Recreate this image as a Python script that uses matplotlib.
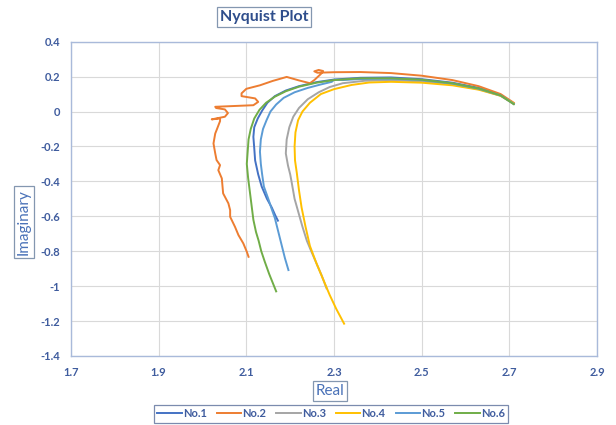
import matplotlib
matplotlib.use("Agg")
import matplotlib.pyplot as plt

plt.rcParams['font.family'] = ['Lato', 'DejaVu Sans']

# series data (real, imaginary)
x1 = [2.71, 2.68, 2.63, 2.57, 2.50, 2.43, 2.36, 2.30, 2.26, 2.22, 2.19, 2.165, 2.148, 2.136, 2.126,
      2.118, 2.116, 2.118, 2.12, 2.127, 2.135, 2.147, 2.158, 2.166, 2.172]
y1 = [0.045, 0.095, 0.135, 0.165, 0.185, 0.195, 0.193, 0.183, 0.168, 0.145, 0.12, 0.088, 0.05, 0.005, -0.04,
      -0.09, -0.145, -0.21, -0.28, -0.36, -0.43, -0.5, -0.55, -0.595, -0.625]

x2 = [2.71, 2.68, 2.63, 2.57, 2.50, 2.43, 2.36, 2.30, 2.262, 2.255, 2.265, 2.275, 2.27, 2.255, 2.245,
      2.22, 2.192, 2.16, 2.131, 2.10, 2.089, 2.089, 2.12, 2.127, 2.116, 2.029, 2.031, 2.051, 2.058,
      2.051, 2.021, 2.04, 2.04, 2.032, 2.029, 2.025, 2.029, 2.032, 2.04, 2.036, 2.044, 2.047, 2.059,
      2.063, 2.063, 2.074, 2.082, 2.093, 2.101, 2.105]
y2 = [0.05, 0.1, 0.145, 0.18, 0.205, 0.22, 0.226, 0.225, 0.222, 0.23, 0.238, 0.232, 0.215, 0.18, 0.162,
      0.178, 0.198, 0.175, 0.15, 0.13, 0.104, 0.088, 0.075, 0.055, 0.036, 0.027, 0.02, 0.012, -0.009,
      -0.03, -0.045, -0.04, -0.055, -0.107, -0.126, -0.183, -0.24, -0.278, -0.307, -0.336, -0.383, -0.469, -0.526,
      -0.565, -0.603, -0.66, -0.708, -0.755, -0.803, -0.832]

x3 = [2.71, 2.68, 2.63, 2.57, 2.50, 2.43, 2.37, 2.32, 2.29, 2.265, 2.24, 2.22, 2.207, 2.198, 2.192,
      2.19, 2.195, 2.2, 2.203, 2.21, 2.219, 2.228, 2.238, 2.248, 2.26, 2.272, 2.283]
y3 = [0.043, 0.09, 0.128, 0.155, 0.172, 0.18, 0.176, 0.162, 0.14, 0.11, 0.07, 0.02, -0.03, -0.09, -0.16,
      -0.24, -0.31, -0.36, -0.4, -0.5, -0.58, -0.66, -0.74, -0.8, -0.87, -0.94, -1.013]

x4 = [2.71, 2.68, 2.63, 2.57, 2.50, 2.43, 2.38, 2.34, 2.30, 2.27, 2.245, 2.228, 2.218, 2.212, 2.21,
      2.211, 2.215, 2.22, 2.226, 2.235, 2.245, 2.26, 2.275, 2.29, 2.305, 2.323]
y4 = [0.047, 0.09, 0.125, 0.15, 0.165, 0.17, 0.166, 0.152, 0.128, 0.1, 0.05, 0.0, -0.05, -0.12, -0.2,
      -0.28, -0.35, -0.45, -0.55, -0.66, -0.77, -0.87, -0.96, -1.05, -1.13, -1.215]

x5 = [2.71, 2.68, 2.63, 2.57, 2.50, 2.43, 2.36, 2.32, 2.30, 2.295, 2.27, 2.24, 2.21, 2.185, 2.168,
      2.155, 2.146, 2.138, 2.133, 2.131, 2.133, 2.136, 2.14, 2.15, 2.158, 2.165, 2.172, 2.18, 2.188, 2.196]
y5 = [0.044, 0.092, 0.13, 0.16, 0.18, 0.188, 0.186, 0.18, 0.182, 0.17, 0.155, 0.135, 0.11, 0.078, 0.04,
      0.0, -0.05, -0.1, -0.16, -0.23, -0.3, -0.36, -0.43, -0.5, -0.56, -0.61, -0.68, -0.76, -0.84, -0.908]

x6 = [2.71, 2.68, 2.63, 2.57, 2.50, 2.43, 2.36, 2.30, 2.26, 2.22, 2.19, 2.165, 2.145, 2.13, 2.118,
      2.11, 2.105, 2.103, 2.101, 2.104, 2.108, 2.112, 2.116, 2.122, 2.128, 2.134, 2.142, 2.152, 2.16, 2.168]
y6 = [0.042, 0.092, 0.132, 0.162, 0.182, 0.19, 0.19, 0.18, 0.165, 0.142, 0.116, 0.085, 0.05, 0.01, -0.04,
      -0.1, -0.16, -0.23, -0.3, -0.38, -0.46, -0.54, -0.62, -0.69, -0.74, -0.8, -0.86, -0.93, -0.98, -1.03]

names = ["No.1", "No.2", "No.3", "No.4", "No.5", "No.6"]
colors = ["#4472C4", "#ED7D31", "#A5A5A5", "#FFC000", "#5B9BD5", "#70AD47"]
xs = [x1, x2, x3, x4, x5, x6]
ys = [y1, y2, y3, y4, y5, y6]

xticks = [1.7, 1.9, 2.1, 2.3, 2.5, 2.7, 2.9]
yticks = [0.4, 0.2, 0, -0.2, -0.4, -0.6, -0.8, -1, -1.2, -1.4]

tick_col = "#3F5C9E"
lab_col = "#4A72B8"

fig = plt.figure(figsize=(6.16, 4.25), dpi=100)
ax = fig.add_axes([0.1153, 0.1624, 0.8539, 0.7396])

for x, y, c, n in zip(xs, ys, colors, names):
    ax.plot(x, y, color=c, lw=1.4, label=n)

ax.set_xlim(1.7, 2.9)
ax.set_ylim(-1.4, 0.4)
ax.set_xticks(xticks)
ax.set_yticks(yticks)
ax.set_xticklabels([str(t) for t in xticks])
ax.set_yticklabels([str(t) for t in yticks])
ax.grid(True, color="#D9D9D9", lw=0.8)
ax.set_axisbelow(True)
ax.tick_params(length=0, labelsize=8, labelcolor=tick_col)
ax.tick_params(axis="x", pad=8)
ax.tick_params(axis="y", pad=8)
for lbl in ax.get_xticklabels() + ax.get_yticklabels():
    lbl.set_fontweight("bold")
for s in ax.spines.values():
    s.set_color("#A9BADA")
    s.set_linewidth(1.0)

box = dict(boxstyle="square,pad=0.2", fc="white", ec="#8497B0", lw=0.9)
fig.text(264 / 616, 1 - 17 / 425, "Nyquist Plot", ha="center", va="center",
         fontsize=11.5, fontweight="bold", color="#2F4E8C", bbox=box)
fig.text(330 / 616, 1 - 391 / 425, "Real", ha="center", va="center",
         fontsize=11, color=lab_col, bbox=box)
fig.text(24 / 616, 1 - 222 / 425, "Imaginary", ha="center", va="center", rotation=90,
         fontsize=11, color=lab_col, bbox=box)

leg = fig.legend(loc="upper center", bbox_to_anchor=(331 / 616, 1 - 405 / 425), ncol=6,
                 fontsize=8, frameon=True, fancybox=False, handlelength=2.2,
                 handletextpad=0.1, columnspacing=0.9, borderpad=0.3, borderaxespad=0)
leg.get_frame().set_edgecolor("#5A6E9A")
leg.get_frame().set_linewidth(0.9)
for t in leg.get_texts():
    t.set_color(tick_col)
    t.set_fontweight("bold")

fig.savefig("out.png", dpi=100)
